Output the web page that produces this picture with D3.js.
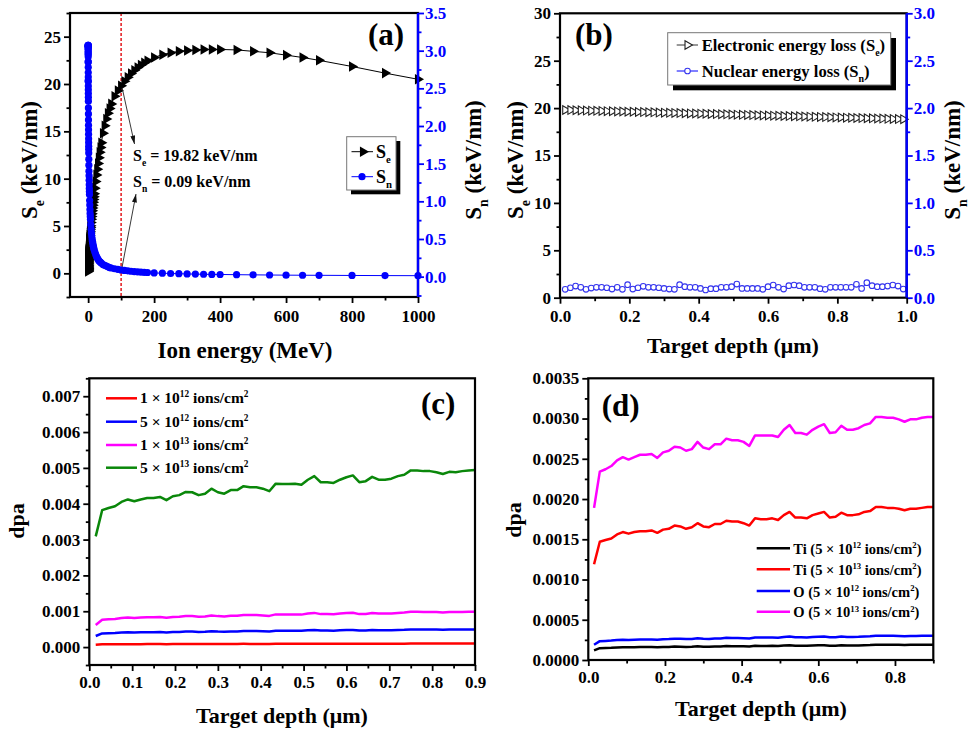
<!DOCTYPE html>
<html>
<head>
<meta charset="utf-8">
<script src="https://cdn.jsdelivr.net/npm/d3@7"></script>
<style>
body { margin: 0; background: #fff; }
svg { font-family: "Liberation Serif", "Times New Roman", serif; font-weight: bold; }
</style>
</head>
<body>
<svg id="fig" width="969" height="730"></svg>
<script>
'use strict';

// ---- (a) stopping power vs ion energy (SRIM grid, MeV) ----
const energyMeV = [0.01,0.02,0.03,0.04,0.05,0.06,0.07,0.08,0.09,0.1,
  0.125,0.15,0.175,0.2,0.25,0.3,0.35,0.4,0.45,0.5,0.55,0.6,0.65,0.7,0.8,0.9,1,
  1.1,1.2,1.3,1.4,1.5,1.6,1.7,1.8,2,2.25,2.5,2.75,3,3.25,3.5,3.75,4,
  4.5,5,5.5,6,6.5,7,8,9,10,11,12,13,14,15,16,17,18,
  20,22.5,25,27.5,30,32.5,35,37.5,40,45,50,55,60,65,70,80,90,100,
  110,120,130,140,150,160,170,180,200,225,250,275,300,325,350,375,400,
  450,500,550,600,650,700,800,900,1000];
const seEnergy = [0.19,0.27,0.33,0.38,0.42,0.46,0.50,0.54,0.57,0.60,
  0.67,0.73,0.79,0.85,0.95,1.04,1.12,1.20,1.27,1.34,1.41,1.47,1.53,1.59,1.70,1.80,1.90,
  1.99,2.08,2.17,2.25,2.33,2.40,2.48,2.55,2.69,2.85,3.00,3.15,3.29,3.43,3.56,3.68,3.80,
  4.03,4.25,4.45,4.65,4.84,5.02,5.37,5.70,6.00,6.30,6.60,6.90,7.20,7.50,7.80,8.10,8.40,
  9.00,9.70,10.40,11.00,11.60,12.20,12.80,13.30,13.80,14.80,15.60,16.30,16.90,17.40,17.90,18.70,19.30,19.82,
  20.30,20.70,21.10,21.45,21.75,22.00,22.25,22.45,22.80,23.10,23.30,23.45,23.55,23.60,23.65,23.65,23.65,
  23.60,23.45,23.30,23.05,22.80,22.50,21.85,21.15,20.50];
const snEnergy = [2.60,2.85,2.97,3.03,3.06,3.07,3.07,3.07,3.06,3.05,
  3.02,2.99,2.95,2.92,2.85,2.78,2.71,2.65,2.59,2.53,2.48,2.43,2.38,2.33,2.24,2.16,2.08,
  2.01,1.95,1.89,1.83,1.78,1.73,1.69,1.64,1.56,1.48,1.40,1.34,1.28,1.22,1.17,1.13,1.09,
  1.01,0.95,0.89,0.84,0.80,0.76,0.69,0.63,0.58,0.54,0.50,0.47,0.45,0.42,0.40,0.38,0.36,
  0.33,0.30,0.27,0.25,0.23,0.21,0.20,0.19,0.18,0.16,0.15,0.14,0.13,0.12,0.115,0.105,0.097,0.09,
  0.083,0.077,0.072,0.068,0.064,0.061,0.058,0.055,0.050,0.046,0.042,0.039,0.036,0.034,0.032,0.030,0.029,
  0.026,0.024,0.022,0.020,0.019,0.018,0.016,0.014,0.013];
const markE = 100, markSe = 19.82, markSn = 0.09;

// ---- (b) stopping power vs target depth ----
const depthB = [0.015,0.03,0.045,0.06,0.075,0.09,0.105,0.12,0.135,0.15,
  0.165,0.18,0.195,0.21,0.225,0.24,0.255,0.27,0.285,0.30,
  0.315,0.33,0.345,0.36,0.375,0.39,0.405,0.42,0.435,0.45,
  0.465,0.48,0.495,0.51,0.525,0.54,0.555,0.57,0.585,0.60,
  0.615,0.63,0.645,0.66,0.675,0.69,0.705,0.72,0.735,0.75,
  0.765,0.78,0.795,0.81,0.825,0.84,0.855,0.87,0.885,0.90,
  0.915,0.93,0.945,0.96,0.975,0.99];
const seDepth = [19.80,19.79,19.77,19.76,19.74,19.73,19.71,19.70,19.68,19.67,
  19.65,19.64,19.62,19.61,19.59,19.58,19.56,19.55,19.53,19.52,
  19.50,19.49,19.47,19.46,19.44,19.43,19.41,19.40,19.38,19.37,
  19.35,19.34,19.32,19.31,19.29,19.28,19.26,19.25,19.23,19.22,
  19.20,19.19,19.17,19.16,19.14,19.13,19.11,19.10,19.08,19.07,
  19.05,19.04,19.02,19.01,18.99,18.98,18.96,18.95,18.93,18.92,
  18.90,18.89,18.87,18.86,18.84,18.83];
const snDepth = [0.088,0.105,0.123,0.109,0.088,0.102,0.109,0.109,0.105,0.091,
  0.109,0.088,0.137,0.091,0.105,0.120,0.109,0.109,0.105,0.098,
  0.091,0.088,0.137,0.116,0.109,0.109,0.098,0.081,0.095,0.095,
  0.109,0.109,0.116,0.144,0.098,0.098,0.098,0.098,0.088,0.116,
  0.134,0.109,0.091,0.127,0.134,0.127,0.109,0.109,0.109,0.095,
  0.088,0.109,0.109,0.109,0.109,0.109,0.141,0.098,0.158,0.127,
  0.116,0.116,0.123,0.134,0.123,0.091];

// ---- (c), (d) dpa vs depth, values in units of 1e-3 dpa ----
const depthDpa = [0.015,0.03,0.045,0.06,0.075,0.09,0.105,0.12,0.135,0.15,
  0.165,0.18,0.195,0.21,0.225,0.24,0.255,0.27,0.285,0.30,
  0.315,0.33,0.345,0.36,0.375,0.39,0.405,0.42,0.435,0.45,
  0.465,0.48,0.495,0.51,0.525,0.54,0.555,0.57,0.585,0.60,
  0.615,0.63,0.645,0.66,0.675,0.69,0.705,0.72,0.735,0.75,
  0.765,0.78,0.795,0.81,0.825,0.84,0.855,0.87,0.885,0.90];
const dpa1e12 = [0.062,0.076,0.078,0.079,0.081,0.082,0.081,0.082,0.083,0.083,
  0.084,0.082,0.084,0.085,0.087,0.086,0.085,0.086,0.088,0.086,
  0.086,0.088,0.088,0.090,0.089,0.089,0.088,0.087,0.091,0.091,
  0.091,0.091,0.091,0.093,0.095,0.092,0.092,0.092,0.093,0.095,
  0.096,0.092,0.093,0.095,0.093,0.093,0.094,0.095,0.096,0.099,
  0.099,0.098,0.098,0.098,0.097,0.098,0.098,0.098,0.099,0.099];
const dpa5e12 = [0.309,0.382,0.388,0.393,0.405,0.412,0.407,0.412,0.416,0.416,
  0.419,0.410,0.421,0.424,0.433,0.432,0.424,0.428,0.442,0.432,
  0.428,0.438,0.438,0.449,0.446,0.446,0.442,0.435,0.456,0.455,
  0.455,0.456,0.453,0.467,0.477,0.460,0.460,0.458,0.467,0.474,
  0.479,0.460,0.463,0.475,0.467,0.467,0.470,0.477,0.481,0.493,
  0.493,0.491,0.491,0.488,0.483,0.489,0.488,0.491,0.493,0.494];
const dpa1e13 = [0.618,0.764,0.776,0.786,0.810,0.824,0.814,0.824,0.832,0.832,
  0.838,0.820,0.842,0.848,0.866,0.864,0.848,0.856,0.884,0.864,
  0.856,0.876,0.876,0.898,0.892,0.892,0.884,0.870,0.912,0.910,
  0.910,0.912,0.906,0.934,0.954,0.920,0.920,0.916,0.934,0.948,
  0.958,0.920,0.926,0.950,0.934,0.934,0.940,0.954,0.962,0.986,
  0.986,0.982,0.982,0.976,0.966,0.978,0.976,0.982,0.986,0.988];
const dpa5e13 = [3.09,3.82,3.88,3.93,4.05,4.12,4.07,4.12,4.16,4.16,
  4.19,4.10,4.21,4.24,4.33,4.32,4.24,4.28,4.42,4.32,
  4.28,4.38,4.38,4.49,4.46,4.46,4.42,4.35,4.56,4.55,
  4.55,4.56,4.53,4.67,4.77,4.60,4.60,4.58,4.67,4.74,
  4.79,4.60,4.63,4.75,4.67,4.67,4.70,4.77,4.81,4.93,
  4.93,4.91,4.91,4.88,4.83,4.89,4.88,4.91,4.93,4.94];
const dpaTi5e12 = [0.119,0.147,0.149,0.151,0.156,0.159,0.157,0.159,0.160,0.160,
  0.161,0.158,0.162,0.163,0.167,0.166,0.163,0.165,0.170,0.166,
  0.165,0.169,0.169,0.173,0.172,0.172,0.170,0.167,0.176,0.175,
  0.175,0.176,0.174,0.180,0.184,0.177,0.177,0.176,0.180,0.182,
  0.184,0.177,0.178,0.183,0.180,0.180,0.181,0.184,0.185,0.190,
  0.190,0.189,0.189,0.188,0.186,0.188,0.188,0.189,0.190,0.190];
const dpaTi5e13 = [1.19,1.47,1.49,1.51,1.56,1.59,1.57,1.59,1.60,1.60,
  1.61,1.58,1.62,1.63,1.67,1.66,1.63,1.65,1.70,1.66,
  1.65,1.69,1.69,1.73,1.72,1.72,1.70,1.67,1.76,1.75,
  1.75,1.76,1.74,1.80,1.84,1.77,1.77,1.76,1.80,1.82,
  1.84,1.77,1.78,1.83,1.80,1.80,1.81,1.84,1.85,1.90,
  1.90,1.89,1.89,1.88,1.86,1.88,1.88,1.89,1.90,1.90];
const dpaO5e12 = [0.189,0.234,0.237,0.241,0.248,0.252,0.249,0.252,0.255,0.255,
  0.256,0.251,0.258,0.260,0.265,0.264,0.260,0.262,0.271,0.264,
  0.262,0.268,0.268,0.275,0.273,0.273,0.271,0.266,0.279,0.279,
  0.279,0.279,0.277,0.286,0.292,0.282,0.282,0.280,0.286,0.290,
  0.293,0.282,0.283,0.291,0.286,0.286,0.288,0.292,0.294,0.302,
  0.302,0.301,0.301,0.299,0.296,0.299,0.299,0.301,0.302,0.302];
const dpaO5e13 = [1.89,2.34,2.37,2.41,2.48,2.52,2.49,2.52,2.55,2.55,
  2.56,2.51,2.58,2.60,2.65,2.64,2.60,2.62,2.71,2.64,
  2.62,2.68,2.68,2.75,2.73,2.73,2.71,2.66,2.79,2.79,
  2.79,2.79,2.77,2.86,2.92,2.82,2.82,2.80,2.86,2.90,
  2.93,2.82,2.83,2.91,2.86,2.86,2.88,2.92,2.94,3.02,
  3.02,3.01,3.01,2.99,2.96,2.99,2.99,3.01,3.02,3.02];

// tick labels
const aXTicks = [0,200,400,600,800,1000];
const aYTicks = [0,5,10,15,20,25];
const aY2Ticks = [0,0.5,1,1.5,2,2.5,3,3.5];
const bXTicks = [0,0.2,0.4,0.6,0.8,1.0];
const bYTicks = [0,5,10,15,20,25,30];
const bY2Ticks = [0,0.5,1,1.5,2,2.5,3];
const cXTicks = [0,0.1,0.2,0.3,0.4,0.5,0.6,0.7,0.8,0.9];
const cYTicks = [0,1,2,3,4,5,6,7];
const dXTicks = [0,0.2,0.4,0.6,0.8];
const dYTicks = [0,0.5,1,1.5,2,2.5,3,3.5];

const FONT = '"Liberation Serif", "Times New Roman", serif';
const BLUE = '#0000ff';
const svg = d3.select('#fig');

svg.append('defs').append('marker')
  .attr('id', 'arrow')
  .attr('viewBox', '0 0 10 6')
  .attr('refX', 10).attr('refY', 3)
  .attr('markerWidth', 9).attr('markerHeight', 5)
  .attr('markerUnits', 'userSpaceOnUse')
  .attr('orient', 'auto')
  .append('path').attr('d', 'M0,0L10,3L0,6Z').attr('fill', '#111');

// text with sub/superscripts
function rich(sel, parts, size) {
  let shift = 0;
  parts.forEach(p => {
    const s = p.sub ? size * 0.32 : p.sup ? -size * 0.38 : 0;
    sel.append('tspan')
      .attr('dy', s - shift)
      .style('font-size', (p.sub || p.sup) ? (size * 0.6) + 'px' : size + 'px')
      .text(p.t);
    shift = s;
  });
  return sel;
}

function makePanel(box) {
  return svg.append('g').attr('transform', `translate(${box.left},${box.top})`);
}

function addAxis(g, axisFn, scale, majors, minors, fmt, color, pad, transform) {
  const a = g.append('g').attr('transform', transform || null)
    .call(axisFn(scale).tickValues(majors).tickFormat(fmt).tickSize(6).tickPadding(pad));
  a.select('.domain').remove();
  a.selectAll('line').attr('stroke', color).attr('stroke-width', 1.8);
  a.selectAll('text').attr('fill', color)
    .style('font-family', FONT).style('font-size', '17px').style('font-weight', 'bold');
  const m = g.append('g').attr('transform', transform || null)
    .call(axisFn(scale).tickValues(minors).tickFormat('').tickSize(3.5));
  m.select('.domain').remove();
  m.selectAll('line').attr('stroke', color).attr('stroke-width', 1.8);
}

function frame(g, box, rightColor) {
  g.append('rect').attr('width', box.w).attr('height', box.h)
    .attr('fill', 'none').attr('stroke', '#000').attr('stroke-width', 2.2);
  if (rightColor) {
    g.append('line').attr('x1', box.w).attr('x2', box.w).attr('y1', 0).attr('y2', box.h)
      .attr('stroke', rightColor).attr('stroke-width', 2.4);
  }
}

function vTitle(x, y, parts, size, color) {
  const t = svg.append('text')
    .attr('transform', `translate(${x},${y}) rotate(-90)`)
    .attr('text-anchor', 'middle').attr('fill', color || '#000')
    .style('font-weight', 'bold');
  rich(t, parts, size);
}

function hTitle(x, y, str, size) {
  svg.append('text').attr('x', x).attr('y', y).attr('text-anchor', 'middle')
    .style('font-size', size + 'px').style('font-weight', 'bold').text(str);
}

function letter(x, y, str) {
  svg.append('text').attr('x', x).attr('y', y)
    .style('font-size', '31px').style('font-weight', 'bold').text(str);
}

const mids = (lo, hi, step) => d3.range(lo, hi + step / 2, step);
const triRight = d3.symbol().type(d3.symbolTriangle);

// ================= (a) =================
const A = { left: 70, top: 13, w: 348, h: 284 };
const ga = makePanel(A);
const ax = d3.scaleLinear().domain([-55, 1000]).range([0, A.w]);
const ay = d3.scaleLinear().domain([-2.5, 27.5]).range([A.h, 0]);
const ay2 = d3.scaleLinear().domain([-0.27, 3.5]).range([A.h, 0]);

ga.append('line').attr('x1', ax(markE)).attr('x2', ax(markE)).attr('y1', 0).attr('y2', A.h)
  .attr('stroke', '#e3262b').attr('stroke-width', 1.6).attr('stroke-dasharray', '3,2');

const aSe = energyMeV.map((e, i) => [e, seEnergy[i]]);
const aSn = energyMeV.map((e, i) => [e, snEnergy[i]]);
ga.append('path').datum(aSe)
  .attr('d', d3.line().x(d => ax(d[0])).y(d => ay(d[1])))
  .attr('fill', 'none').attr('stroke', '#000').attr('stroke-width', 1);
ga.selectAll('.se').data(aSe).join('path').attr('class', 'se')
  .attr('d', triRight.size(48))
  .attr('transform', d => `translate(${ax(d[0])},${ay(d[1])}) rotate(90)`)
  .attr('fill', '#000');
ga.append('path').datum(aSn)
  .attr('d', d3.line().x(d => ax(d[0])).y(d => ay2(d[1])))
  .attr('fill', 'none').attr('stroke', BLUE).attr('stroke-width', 1);
ga.selectAll('.sn').data(aSn).join('circle').attr('class', 'sn')
  .attr('cx', d => ax(d[0])).attr('cy', d => ay2(d[1])).attr('r', 3.6)
  .attr('fill', BLUE);

frame(ga, A, BLUE);
addAxis(ga, d3.axisLeft, ay, aYTicks, mids(-2.5, 27.5, 5), d3.format('d'), '#000', 3);
addAxis(ga, d3.axisRight, ay2, aY2Ticks, mids(-0.25, 3.25, 0.5), d3.format('.1f'), BLUE, 1, `translate(${A.w},0)`);
addAxis(ga, d3.axisBottom, ax, aXTicks, mids(100, 900, 200), d3.format('d'), '#000', 7, `translate(0,${A.h})`);

// annotation arrows and text
svg.append('line')
  .attr('x1', A.left + ax(markE) + 1).attr('y1', A.top + ay(markSe) + 2)
  .attr('x2', 134.5).attr('y2', 144)
  .attr('stroke', '#222').attr('stroke-width', 0.9).attr('marker-end', 'url(#arrow)');
svg.append('line')
  .attr('x1', A.left + ax(markE) + 1).attr('y1', A.top + ay2(markSn) - 3)
  .attr('x2', 136).attr('y2', 194)
  .attr('stroke', '#222').attr('stroke-width', 0.9).attr('marker-end', 'url(#arrow)');
rich(svg.append('text').attr('x', 133).attr('y', 161),
  [{ t: 'S' }, { t: 'e', sub: true }, { t: ' = 19.82 keV/nm' }], 16);
rich(svg.append('text').attr('x', 133).attr('y', 187),
  [{ t: 'S' }, { t: 'n', sub: true }, { t: ' = 0.09 keV/nm' }], 16);

// legend (a)
svg.append('rect').attr('x', 351).attr('y', 141).attr('width', 49.3).attr('height', 53.3).attr('fill', '#000');
svg.append('rect').attr('x', 346.7).attr('y', 136.7).attr('width', 49.3).attr('height', 53.3)
  .attr('fill', '#fff').attr('stroke', '#777').attr('stroke-width', 1);
svg.append('line').attr('x1', 351.5).attr('x2', 373).attr('y1', 151.7).attr('y2', 151.7).attr('stroke', '#000');
svg.append('path').attr('d', triRight.size(48)).attr('transform', 'translate(363,151.7) rotate(90)').attr('fill', '#000');
svg.append('line').attr('x1', 351.5).attr('x2', 373).attr('y1', 176.7).attr('y2', 176.7).attr('stroke', BLUE);
svg.append('circle').attr('cx', 362).attr('cy', 176.7).attr('r', 3.6).attr('fill', BLUE);
rich(svg.append('text').attr('x', 376).attr('y', 157.5), [{ t: 'S' }, { t: 'e', sub: true }], 18);
rich(svg.append('text').attr('x', 376).attr('y', 182.5), [{ t: 'S' }, { t: 'n', sub: true }], 18);

letter(368, 45, '(a)');
vTitle(37, 160, [{ t: 'S' }, { t: 'e', sub: true }, { t: ' (keV/nm)' }], 23);
vTitle(481, 160, [{ t: 'S' }, { t: 'n', sub: true }, { t: ' (keV/nm)' }], 23);
hTitle(245, 358, 'Ion energy (MeV)', 23);

// ================= (b) =================
const B = { left: 560, top: 13.3, w: 346.7, h: 284.4 };
const gb = makePanel(B);
const bx = d3.scaleLinear().domain([0, 1]).range([0, B.w]);
const by = d3.scaleLinear().domain([0, 30]).range([B.h, 0]);
const by2 = d3.scaleLinear().domain([0, 3]).range([B.h, 0]);

const bSe = depthB.map((x, i) => [x, seDepth[i]]);
const bSn = depthB.map((x, i) => [x, snDepth[i]]);
gb.append('path').datum(bSe)
  .attr('d', d3.line().x(d => bx(d[0])).y(d => by(d[1])))
  .attr('fill', 'none').attr('stroke', '#333').attr('stroke-width', 1);
gb.selectAll('.se').data(bSe).join('path').attr('class', 'se')
  .attr('d', triRight.size(32))
  .attr('transform', d => `translate(${bx(d[0])},${by(d[1])}) rotate(90)`)
  .attr('fill', '#fff').attr('stroke', '#222').attr('stroke-width', 1.1);
gb.append('path').datum(bSn)
  .attr('d', d3.line().x(d => bx(d[0])).y(d => by2(d[1])))
  .attr('fill', 'none').attr('stroke', BLUE).attr('stroke-width', 0.9);
gb.selectAll('.sn').data(bSn).join('circle').attr('class', 'sn')
  .attr('cx', d => bx(d[0])).attr('cy', d => by2(d[1])).attr('r', 2.8)
  .attr('fill', '#fff').attr('stroke', '#3333ee').attr('stroke-width', 1.1);

frame(gb, B, BLUE);
addAxis(gb, d3.axisLeft, by, bYTicks, mids(2.5, 27.5, 5), d3.format('d'), '#000', 3);
addAxis(gb, d3.axisRight, by2, bY2Ticks, mids(0.25, 2.75, 0.5), d3.format('.1f'), BLUE, 1, `translate(${B.w},0)`);
addAxis(gb, d3.axisBottom, bx, bXTicks, mids(0.1, 0.9, 0.2), d3.format('.1f'), '#000', 6, `translate(0,${B.h})`);

// legend (b)
svg.append('rect').attr('x', 673).attr('y', 38).attr('width', 223).attr('height', 52.3).attr('fill', '#000');
svg.append('rect').attr('x', 667.7).attr('y', 32.7).attr('width', 223).attr('height', 52.3)
  .attr('fill', '#fff').attr('stroke', '#777').attr('stroke-width', 1);
svg.append('line').attr('x1', 676.7).attr('x2', 698).attr('y1', 45).attr('y2', 45).attr('stroke', '#333');
svg.append('path').attr('d', triRight.size(32)).attr('transform', 'translate(687.5,45) rotate(90)')
  .attr('fill', '#fff').attr('stroke', '#222').attr('stroke-width', 1.1);
svg.append('line').attr('x1', 676.7).attr('x2', 698).attr('y1', 71).attr('y2', 71).attr('stroke', BLUE);
svg.append('circle').attr('cx', 687.5).attr('cy', 71).attr('r', 2.8)
  .attr('fill', '#fff').attr('stroke', '#3333ee').attr('stroke-width', 1.1);
rich(svg.append('text').attr('x', 701.7).attr('y', 50.8),
  [{ t: 'Electronic energy loss (S' }, { t: 'e', sub: true }, { t: ')' }], 16.6);
rich(svg.append('text').attr('x', 701.7).attr('y', 76.8),
  [{ t: 'Nuclear energy loss (S' }, { t: 'n', sub: true }, { t: ')' }], 16.6);

letter(575, 45, '(b)');
vTitle(523, 160, [{ t: 'S' }, { t: 'e', sub: true }, { t: ' (keV/nm)' }], 23);
vTitle(960, 160, [{ t: 'S' }, { t: 'n', sub: true }, { t: ' (keV/nm)' }], 23);
hTitle(733, 353, 'Target depth (\u03bcm)', 22);

// ================= (c) =================
const C = { left: 89.3, top: 378.3, w: 385.7, h: 286.7 };
const gc = makePanel(C);
const cx = d3.scaleLinear().domain([0, 0.9]).range([0, C.w]);
const cy = d3.scaleLinear().domain([-0.5, 7.5]).range([C.h, 0]);
const cSeries = [
  { name: '1', exp: '12', vals: dpa1e12, color: '#ff0000' },
  { name: '5', exp: '12', vals: dpa5e12, color: '#0000ff' },
  { name: '1', exp: '13', vals: dpa1e13, color: '#ff00ff' },
  { name: '5', exp: '13', vals: dpa5e13, color: '#0a870a' }
];
const cLine = d3.line().x(d => cx(d[0])).y(d => cy(d[1]));
cSeries.forEach(s => {
  gc.append('path').datum(depthDpa.map((x, i) => [x, s.vals[i]]))
    .attr('d', cLine).attr('fill', 'none').attr('stroke', s.color).attr('stroke-width', 2.5)
    .attr('stroke-linejoin', 'round');
});
frame(gc, C);
addAxis(gc, d3.axisLeft, cy, cYTicks, mids(-0.5, 7.5, 1), v => (v / 1000).toFixed(3), '#000', 3);
addAxis(gc, d3.axisBottom, cx, cXTicks, mids(0.05, 0.85, 0.1), d3.format('.1f'), '#000', 5, `translate(0,${C.h})`);

cSeries.forEach((s, i) => {
  const y = [398.3, 421.7, 445, 467.7][i];
  svg.append('line').attr('x1', 106).attr('x2', 137).attr('y1', y).attr('y2', y)
    .attr('stroke', s.color).attr('stroke-width', 2.5);
  rich(svg.append('text').attr('x', 140).attr('y', y + 5),
    [{ t: s.name + ' \u00d7 10' }, { t: s.exp, sup: true }, { t: ' ions/cm' }, { t: '2', sup: true }], 15.5);
});

letter(421, 414, '(c)');
vTitle(24, 521, [{ t: 'dpa' }], 22);
hTitle(282, 723, 'Target depth (\u03bcm)', 22);

// ================= (d) =================
const D = { left: 588.3, top: 378.3, w: 345, h: 281.7 };
const gd = makePanel(D);
const dx = d3.scaleLinear().domain([0, 0.9]).range([0, D.w]);
const dy = d3.scaleLinear().domain([0, 3.5]).range([D.h, 0]);
const dSeries = [
  { el: 'Ti', exp: '12', vals: dpaTi5e12, color: '#000000' },
  { el: 'Ti', exp: '13', vals: dpaTi5e13, color: '#ff0000' },
  { el: 'O', exp: '12', vals: dpaO5e12, color: '#0000ff' },
  { el: 'O', exp: '13', vals: dpaO5e13, color: '#ff00ff' }
];
const dLine = d3.line().x(d => dx(d[0])).y(d => dy(d[1]));
dSeries.forEach(s => {
  gd.append('path').datum(depthDpa.map((x, i) => [x, s.vals[i]]))
    .attr('d', dLine).attr('fill', 'none').attr('stroke', s.color).attr('stroke-width', 2.5)
    .attr('stroke-linejoin', 'round');
});
frame(gd, D);
addAxis(gd, d3.axisLeft, dy, dYTicks, mids(0.25, 3.25, 0.5), v => (v / 1000).toFixed(4), '#000', 3);
addAxis(gd, d3.axisBottom, dx, dXTicks, mids(0.1, 0.9, 0.2), d3.format('.1f'), '#000', 5, `translate(0,${D.h})`);

dSeries.forEach((s, i) => {
  const y = [548.3, 569.3, 591, 611.7][i];
  svg.append('line').attr('x1', 756.7).attr('x2', 790).attr('y1', y).attr('y2', y)
    .attr('stroke', s.color).attr('stroke-width', 2.5);
  rich(svg.append('text').attr('x', 793.3).attr('y', y + 5.5),
    [{ t: s.el + ' (5 \u00d7 10' }, { t: s.exp, sup: true }, { t: ' ions/cm' }, { t: '2', sup: true }, { t: ')' }], 14.5);
});

letter(601.7, 416, '(d)');
vTitle(521, 520, [{ t: 'dpa' }], 22);
hTitle(761, 716, 'Target depth (\u03bcm)', 22);
</script>
</body>
</html>
